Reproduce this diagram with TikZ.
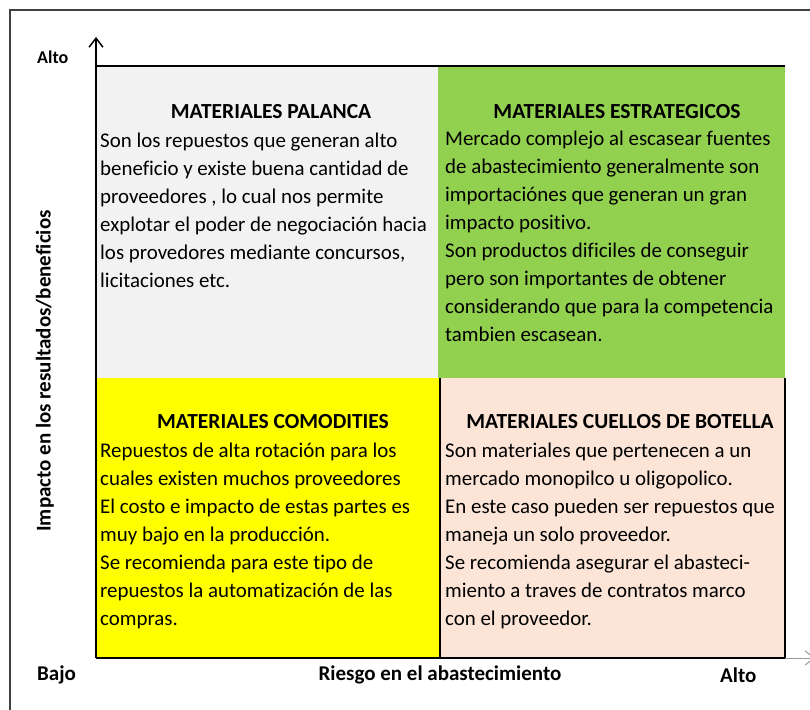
\documentclass[tikz,border=0pt]{standalone}
\usepackage{fontspec}
\setmainfont{Carlito}[Ligatures=NoCommon]
\usetikzlibrary{arrows.meta}
\definecolor{palanca}{HTML}{F2F2F2}
\definecolor{estrategico}{HTML}{92D050}
\definecolor{comodity}{HTML}{FFFF00}
\definecolor{cuello}{HTML}{FCE4D6}
\tikzset{
  titulo/.style={font=\fontsize{21.5}{28}\selectfont\bfseries, anchor=base, inner sep=0pt},
  cuerpo/.style={font=\fontsize{20.9}{28}\selectfont, align=left, anchor=base west, inner sep=0pt},
  eje/.style={font=\fontsize{21}{24}\selectfont\bfseries, inner sep=0pt},
  linea/.style={line width=1.5pt},
  punta/.style={-{Straight Barb[length=9pt,width=14pt]}}
}

\begin{document}
\begin{tikzpicture}[x=1pt,y=-1pt]
\useasboundingbox (0,0) rectangle (810,709);
\draw[line width=2pt, black!75] (10,712) -- (10,10) -- (812,10);
% cuadrantes
\fill[palanca] (96,66) rectangle (438,378);
\fill[estrategico] (438,66) rectangle (785,378);
\fill[comodity] (96,378) rectangle (440,658);
\fill[cuello] (440,378) rectangle (785,658);
\draw[linea] (96,66) -- (785,66);
\draw[linea] (440,378) -- (440,658) (785,378) -- (785,658);
% ejes
\coordinate (origen) at (96,658);
\coordinate (arriba) at (96,37);
\coordinate (esquina) at (785,658);
\coordinate (derecha) at (815,658);
\draw[linea,punta] (origen) -- (arriba);
\draw[linea] (origen) -- (esquina);
\draw[line width=1pt, black!40, punta] (esquina) -- (derecha);

% la ultima linea de cada texto va en la coordenada dada
\node[titulo] (palancatit) at (271,118) {MATERIALES PALANCA};
\node[cuerpo] (palancatxt) at (100,287) {Son los repuestos que generan alto\\
beneficio y existe buena cantidad de\\
proveedores , lo cual nos permite\\
explotar el poder de negociación hacia\\
los provedores mediante concursos,\\
licitaciones etc.};

\node[titulo] (estrattit) at (617,118) {MATERIALES ESTRATEGICOS};
\node[cuerpo] (estrattxt) at (445,341) {Mercado complejo al escasear fuentes\\
de abastecimiento generalmente son\\
importaciónes que generan un gran\\
impacto positivo.\\
Son productos dificiles de conseguir\\
pero son importantes de obtener\\
considerando que para la competencia\\
tambien escasean.};

\node[titulo] (comodtit) at (273,428) {MATERIALES COMODITIES};
\node[cuerpo] (comodtxt) at (100,625) {Repuestos de alta rotación para los\\
cuales existen muchos proveedores\\
El costo e impacto de estas partes es\\
muy bajo en la producción.\\
Se recomienda para este tipo de\\
repuestos la automatización de las\\
compras.};

\node[titulo] (cuellotit) at (620,428) {MATERIALES CUELLOS DE BOTELLA};
\node[cuerpo] (cuellotxt) at (445,625) {Son materiales que pertenecen a un\\
mercado monopilco u oligopolico.\\
En este caso pueden ser repuestos que\\
maneja un solo proveedor.\\
Se recomienda asegurar el abasteci-\\
miento a traves de contratos marco\\
con el proveedor.};

% rotulos de los ejes
\node[eje, font=\fontsize{18}{22}\selectfont\bfseries, anchor=west] (altoy) at (37,57) {Alto};
\node[eje, anchor=west] (bajo) at (37,675) {Bajo};
\node[eje] (riesgo) at (440,675) {Riesgo en el abastecimiento};
\node[eje, anchor=west] (altox) at (720,675) {Alto};
\node[eje, rotate=90] (impacto) at (45,371) {Impacto en los resultados/beneficios};
\end{tikzpicture}
\end{document}
